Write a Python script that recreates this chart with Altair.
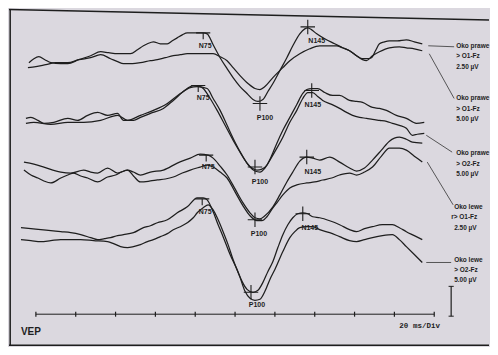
import altair as alt
import pandas as pd

# ---------------- data ----------------
# time in ms (20 ms / division), amplitude in display units (bottom = 0)

# pair 1  (Oko prawe > O1-Fz 2.50 uV)
t_A = [-3.5, -1, 1.5, 4.5, 7.5, 12.5, 16, 21.5, 27.5, 32.5, 36.5, 41, 45, 47.5, 51, 54, 56, 59, 62.5, 66, 68.5, 71, 73.5, 76, 80, 84, 86, 89, 92.5, 96, 99, 102.5, 106, 109, 111.5, 114, 116.5, 119, 122.5, 126, 129, 132.5, 135, 136.5, 138.5, 141, 145, 150, 154, 157.5, 161, 164, 166.5, 168.5, 170.5, 172.5, 175, 177.5, 181.5, 186, 190, 194]
y_A = [285, 289, 291, 288, 285, 284, 284, 288, 292, 296, 295, 294, 294, 294, 298, 302, 304, 306, 304, 304, 307, 310, 313, 315, 315, 315, 314, 303, 290, 279, 270, 261, 254, 248, 246, 248, 256, 264, 277, 290, 302, 314, 319, 320, 318, 314, 309, 304, 300, 297, 292, 289, 289, 290, 297, 304, 306, 307, 307, 308, 306, 304]
t_B = [-4, 0, 5, 10, 16, 21.5, 27.5, 32.5, 37.5, 41, 44, 48.5, 52.5, 57.5, 61, 65, 69, 72.5, 76, 82.5, 89, 92.5, 96, 99, 102.5, 106.5, 110, 112.5, 115, 119, 124, 127.5, 132.5, 137.5, 142.5, 147.5, 151, 154, 157.5, 161, 164, 166, 169, 172.5, 177.5, 182.5, 186, 190, 194]
y_B = [280, 281, 283, 285, 285, 288, 290, 293, 289, 286, 284, 284, 285, 287, 288, 290, 292, 293, 294, 294, 294, 291, 287, 280, 272, 264, 259, 258, 261, 270, 280, 287, 294, 299, 302, 302, 302, 300, 297, 292, 288, 287, 292, 296, 300, 301, 300, 299, 297]

# pair 2  (Oko prawe > O1-Fz 5.00 uV)
t_C = [-5, -2.5, 1, 4, 9, 16, 21, 26, 31, 36, 41, 44, 49, 52.5, 57.5, 64, 69, 76, 79, 82.5, 84, 87.5, 91, 95, 99, 102.5, 106, 108.5, 111, 113.5, 116, 118.5, 121, 124, 127.5, 131, 134, 136, 138.5, 141.5, 145, 149, 152.5, 157.5, 161, 164, 169, 172.5, 176, 181, 186, 191, 195]
y_C = [229, 230, 227, 224, 225, 229, 227, 232, 235, 232, 234, 227, 227, 230, 234, 239, 247, 259, 262, 261, 259, 249, 237, 222, 207, 195, 184, 179, 177, 178, 182, 192, 204, 217, 230, 243, 254, 258, 259, 259, 255, 252, 252, 247, 246, 245, 240, 239, 237, 232, 229, 224, 225]
t_D = [-5, -1, 7.5, 16, 24, 32.5, 41, 46, 52.5, 59, 66, 72.5, 77.5, 81, 86, 89, 92.5, 96, 100, 103.5, 107.5, 110, 112.5, 115, 117.5, 121, 124, 127.5, 131, 134, 136.5, 139, 141.5, 144, 148.5, 152.5, 156, 159, 162.5, 166, 169, 172.5, 176, 179, 182.5, 186, 189, 191.5, 195]
y_D = [224, 225, 223, 225, 225, 227, 232, 227, 232, 237, 244, 254, 260, 261, 259, 249, 237, 222, 205, 192, 180, 176, 175, 179, 187, 199, 210, 225, 237, 249, 255, 255, 251, 247, 243, 239, 235, 232, 230, 229, 228, 227, 226, 224, 222, 219, 212, 213, 214]

# pair 3  (Oko prawe > O2-Fz 5.00 uV)
t_E = [-6, -1, 4, 8.5, 12.5, 17.5, 24, 27.5, 31, 36, 41, 46, 49, 52.5, 57.5, 64, 71, 77.5, 82.5, 86.5, 89, 92.5, 96, 100, 104, 107.5, 110, 112.5, 115, 119, 122.5, 126, 129, 132.5, 136, 139, 142.5, 147.5, 152.5, 157.5, 161, 165, 169, 173.5, 177.5, 182.5, 186, 189, 194]
y_E = [185, 183, 180, 177, 175, 174, 177, 175, 174, 179, 174, 177, 175, 172, 175, 177, 184, 189, 193, 192, 189, 181, 172, 158, 144, 134, 129, 128, 131, 140, 152, 165, 175, 186, 190, 189, 187, 190, 185, 179, 176, 179, 187, 197, 206, 210, 208, 205, 204]
t_F = [-6, -2.5, 1, 4, 7.5, 12.5, 16, 19, 22.5, 26, 31, 36, 40, 43, 46, 49, 52.5, 57.5, 61, 65, 69, 73.5, 77.5, 82.5, 86, 89, 92.5, 96, 100, 104, 107.5, 111, 113.5, 116, 119, 121, 124, 127.5, 131, 136, 140, 144, 148.5, 152.5, 157.5, 161, 165, 169, 173.5, 177.5, 182.5, 186, 190, 194]
y_F = [177, 172, 169, 166, 164, 169, 172, 174, 171, 169, 165, 170, 172, 175, 177, 171, 165, 166, 167, 168, 170, 174, 177, 180, 182, 180, 175, 169, 155, 141, 131, 126, 126, 130, 139, 144, 152, 159, 162, 164, 165, 167, 169, 172, 174, 172, 175, 180, 191, 199, 199, 197, 191, 185]

# pair 4  (Oko lewe > O1-Fz 2.50 uV / > O2-Fz 5.00 uV)
t_G = [-7.5, -2.5, 2.5, 7.5, 12.5, 17.5, 22.5, 27.5, 31, 34.5, 37.5, 41, 44, 49, 54, 57.5, 61, 66, 71, 76, 81, 84, 86, 89, 91.5, 94, 97.5, 101, 103.5, 106, 109, 111.5, 114, 116.5, 119, 121.5, 124, 126.5, 129, 131.5, 134, 136.5, 139, 142.5, 147.5, 152.5, 157.5, 161, 165, 169, 174, 179, 182.5, 186, 190, 194]
y_G = [119, 118, 117, 116, 115, 114, 112, 109, 107, 108, 109, 111, 112, 114, 119, 121, 124, 127, 134, 140, 149, 149, 147, 135, 122, 110, 92, 77, 65, 57, 54, 56, 64, 75, 85, 99, 112, 122, 129, 133, 134, 133, 130, 129, 126, 122, 117, 115, 118, 120, 122, 122, 119, 115, 111, 107]
t_H = [-7.5, -2.5, 2.5, 7.5, 12.5, 17.5, 22.5, 29, 36, 39, 42.5, 46, 49, 52.5, 56, 59, 62.5, 66, 69, 72.5, 76, 79, 81, 84, 86.5, 89, 91.5, 94, 96.5, 99, 102.5, 105, 107.5, 110, 112.5, 115, 117.5, 120, 124, 127.5, 130, 132.5, 136, 139, 142.5, 147.5, 152.5, 157.5, 161, 165, 169, 174, 179, 182.5, 186, 190, 194]
y_H = [107, 106, 105, 106, 107, 107, 107, 106, 105, 103, 100, 99, 100, 102, 105, 107, 110, 113, 117, 120, 124, 129, 134, 139, 142, 137, 127, 115, 102, 87, 69, 55, 48, 46, 47, 55, 67, 77, 95, 109, 115, 119, 120, 120, 117, 114, 110, 106, 105, 107, 109, 111, 112, 107, 100, 92, 84]

# peak markers
n75_t = [84, 81.5, 85.5, 83.5]
n75_y = [315, 262, 192, 148]
p100_t = [112.5, 110, 110, 108]
p100_y = [244, 180, 127, 54]
n145_t = [136.5, 138.5, 136, 134]
n145_y = [321, 257, 190, 133]
# peak label anchors
n75_lab_t = [85, 84, 86.5, 85]
n75_lab_y = [302, 249, 180, 135]
p100_lab_t = [115, 112.5, 112, 111]
p100_lab_y = [229, 165, 113, 41]
n145_lab_t = [141, 139, 139, 137.5]
n145_lab_y = [307, 242, 175, 119]

# channel legend on the right
chan_eye = ["Oko prawe", "Oko prawe", "Oko prawe", "Oko lewe", "Oko lewe"]
chan_deriv = ["> O1-Fz", "> O1-Fz", "> O2-Fz", "r> O1-Fz", "> O2-Fz"]
chan_gain = ["2.50 µV", "5.00 µV", "5.00 µV", "2.50 µV", "5.00 µV"]
chan_lab_t = [211, 211, 211, 210, 210]
chan_lab_y = [302, 249, 194, 140, 87]
conn_t = [197, 197.5, 196, 196.5, 196]
conn_y = [302, 294, 212, 185, 84]
conn_t2 = [210, 210, 209, 209.5, 208.5]
conn_y2 = [301, 249, 195, 142, 84]

# time axis (20 ms / Div)
axis_ticks = [0, 20, 40, 60, 80, 100, 120, 140, 160, 180, 200]

# ---------------- build tables ----------------
INK = "#1e1e1e"
PAPER = "#dbd8df"

rows = []
for name, (ts, ys) in {"A": (t_A, y_A), "B": (t_B, y_B), "C": (t_C, y_C), "D": (t_D, y_D),
                       "E": (t_E, y_E), "F": (t_F, y_F), "G": (t_G, y_G), "H": (t_H, y_H)}.items():
    for i, (t, y) in enumerate(zip(ts, ys)):
        rows.append({"trace": name, "t": t, "y": y, "i": i})
traces = pd.DataFrame(rows)

xs = alt.Scale(domain=[-13.5, 227.5], nice=False, zero=False)
ys = alt.Scale(domain=[0, 339], nice=False, zero=False)
X = lambda f: alt.X(f, type="quantitative", scale=xs, axis=None)
Y = lambda f: alt.Y(f, type="quantitative", scale=ys, axis=None)

lines = alt.Chart(traces).mark_line(color=INK, strokeWidth=1.25, interpolate="monotone").encode(
    x=X("t"), y=Y("y"), detail="trace:N", order="i:Q")

plus_df = pd.DataFrame({"t": p100_t + n145_t, "y": p100_y + n145_y})
plus = alt.Chart(plus_df).mark_point(shape="M-1,0L1,0M0,-1L0,1", size=210, filled=False,
                                      stroke=INK, strokeWidth=1.1, opacity=1).encode(x=X("t"), y=Y("y"))
tee_df = pd.DataFrame({"t": n75_t, "y": n75_y})
tee = alt.Chart(tee_df).mark_point(shape="M-1,0L1,0M0,0L0,0.9", size=200, filled=False,
                                    stroke=INK, strokeWidth=1.1, opacity=1).encode(x=X("t"), y=Y("y"))

peak_lab = pd.DataFrame({
    "t": n75_lab_t + p100_lab_t + n145_lab_t,
    "y": n75_lab_y + p100_lab_y + n145_lab_y,
    "txt": ["N75"] * 4 + ["P100"] * 4 + ["N145"] * 4,
})
peak_text = alt.Chart(peak_lab).mark_text(font="Liberation Sans", fontSize=7, fontWeight="bold",
                                          color=INK, align="center", baseline="middle").encode(
    x=X("t"), y=Y("y"), text="txt:N")

lab_rows = []
for k in range(5):
    for j, s in enumerate([chan_eye[k], chan_deriv[k], chan_gain[k]]):
        lab_rows.append({"t": chan_lab_t[k] - (1.5 if (k == 3 and j == 1) else 0),
                         "y": chan_lab_y[k] - 10.5 * j, "txt": s})
chan_text = alt.Chart(pd.DataFrame(lab_rows)).mark_text(
    font="Liberation Sans Narrow, Liberation Sans", fontSize=6.5, fontWeight="bold", color=INK,
    align="left", baseline="middle").encode(x=X("t"), y=Y("y"), text="txt:N")

conn = alt.Chart(pd.DataFrame({"t": conn_t, "y": conn_y, "t2": conn_t2, "y2": conn_y2})).mark_rule(
    color="#333333", strokeWidth=0.8).encode(x=X("t"), y=Y("y"), x2="t2:Q", y2="y2:Q")

axis_line = alt.Chart(pd.DataFrame({"t": [axis_ticks[0]], "t2": [axis_ticks[-1]], "y": [32]})).mark_rule(
    color=INK, strokeWidth=1).encode(x=X("t"), x2="t2:Q", y=Y("y"))
axis_tk = alt.Chart(pd.DataFrame({"t": axis_ticks, "y": [29.5] * len(axis_ticks), "y2": [34.5] * len(axis_ticks)})).mark_rule(
    color=INK, strokeWidth=1.2).encode(x=X("t"), y=Y("y"), y2="y2:Q")

cal = alt.Chart(pd.DataFrame({"t": [208.5], "y": [30], "y2": [60]})).mark_rule(
    color=INK, strokeWidth=1.2).encode(x=X("t"), y=Y("y"), y2="y2:Q")
cal_caps = alt.Chart(pd.DataFrame({"t": [207.2, 207.2], "t2": [209.8, 209.8], "y": [30, 60]})).mark_rule(
    color=INK, strokeWidth=1).encode(x=X("t"), x2="t2:Q", y=Y("y"))

frame = alt.Chart(pd.DataFrame({
    "t": [-12.9, -13.5, -13.5], "y": [0, 338.5, 0.8],
    "t2": [-12.9, 227.5, 227.5], "y2": [338.5, 328, 0.8]})).mark_rule(
    color=INK, strokeWidth=1.5).encode(x=X("t"), y=Y("y"), x2="t2:Q", y2="y2:Q")

misc = alt.Chart(pd.DataFrame({"t": [-7.5], "y": [14], "txt": ["VEP"]})).mark_text(
    font="Liberation Sans", fontSize=10, fontWeight="bold", color=INK, align="left", baseline="middle").encode(
    x=X("t"), y=Y("y"), text="txt:N")
div_txt = alt.Chart(pd.DataFrame({"t": [182.5], "y": [20], "txt": ["20 ms/Div"]})).mark_text(
    font="Liberation Mono", fontSize=7.5, fontWeight="bold", color=INK, align="left", baseline="middle").encode(
    x=X("t"), y=Y("y"), text="txt:N")

chart = alt.layer(frame, lines, plus, tee, peak_text, conn, chan_text, axis_line, axis_tk,
                  cal, cal_caps, misc, div_txt).properties(
    width=482, height=339, padding=0,
    autosize=alt.AutoSizeParams(type="fit", contains="padding"),
    background=PAPER,
).configure_view(stroke=None)

chart.save("out.html", embed_options={"renderer": "svg", "actions": False})
